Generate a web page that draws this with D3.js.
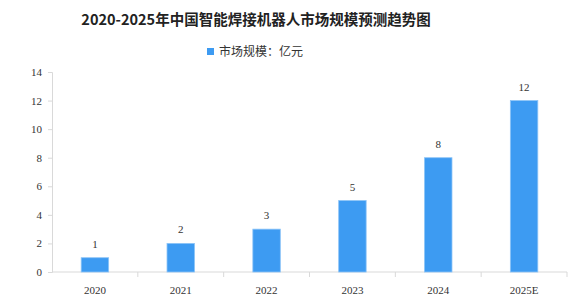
<!DOCTYPE html>
<html>
<head>
<meta charset="utf-8">
<script src="https://cdn.jsdelivr.net/npm/d3@7"></script>
<style>
body { margin: 0; background: #fff; }
text { font-family: "Liberation Serif", "Noto Sans CJK SC", serif; }
.cjk { font-family: "Noto Sans CJK SC", sans-serif; }
</style>
</head>
<body>
<div id="chart"></div>
<script>
var years = ["2020", "2021", "2022", "2023", "2024", "2025E"];
var values = [1, 2, 3, 5, 8, 12];
var yTicks = [0, 2, 4, 6, 8, 10, 12, 14];

var width = 581, height = 303;
var margin = {top: 72, right: 14, bottom: 31, left: 52};

var svg = d3.select("#chart").append("svg")
    .attr("width", width)
    .attr("height", height);

var x = d3.scaleBand()
    .domain(years)
    .range([margin.left, width - margin.right])
    .paddingInner(0.68)
    .paddingOuter(0.34);

var y = d3.scaleLinear()
    .domain([0, 14])
    .range([height - margin.bottom, margin.top]);

svg.append("text")
    .attr("class", "cjk")
    .attr("x", 256)
    .attr("y", 25)
    .attr("text-anchor", "middle")
    .style("font-size", "14.5px")
    .style("font-weight", "bold")
    .style("fill", "#222")
    .text("2020-2025年中国智能焊接机器人市场规模预测趋势图");

svg.append("rect")
    .attr("x", 207)
    .attr("y", 48)
    .attr("width", 7)
    .attr("height", 7)
    .style("fill", "#3d9bf2");

svg.append("text")
    .attr("class", "cjk")
    .attr("x", 219)
    .attr("y", 56)
    .style("font-size", "12px")
    .style("fill", "#333")
    .text("市场规模：亿元");

// y axis
var yAxis = svg.append("g")
    .attr("transform", "translate(" + margin.left + ",0)")
    .call(d3.axisLeft(y).tickValues(yTicks).tickSize(4).tickPadding(6));
yAxis.selectAll("line, path").style("stroke", "#d9d9d9");
yAxis.selectAll("text").style("font-size", "11px").style("fill", "#333")
    .style("font-family", "Liberation Serif, serif");

// x axis with separator ticks between categories
var xAxisG = svg.append("g")
    .attr("transform", "translate(0," + y(0) + ")");
xAxisG.append("line")
    .attr("x1", margin.left)
    .attr("x2", width - margin.right)
    .style("stroke", "#d9d9d9");
var step = x.step();
xAxisG.selectAll(".sep")
    .data(years)
    .enter().append("line")
    .attr("x1", function(d){ return x(d) + x.bandwidth() / 2 + step / 2; })
    .attr("x2", function(d){ return x(d) + x.bandwidth() / 2 + step / 2; })
    .attr("y1", 0)
    .attr("y2", 5)
    .style("stroke", "#d9d9d9");
xAxisG.selectAll(".lbl")
    .data(years)
    .enter().append("text")
    .attr("x", function(d){ return x(d) + x.bandwidth() / 2; })
    .attr("y", 22)
    .attr("text-anchor", "middle")
    .style("font-size", "11px")
    .style("fill", "#333")
    .text(function(d){ return d; });

svg.selectAll(".bar")
    .data(values)
    .enter().append("rect")
    .attr("x", function(d, i){ return x(years[i]); })
    .attr("y", function(d){ return y(d); })
    .attr("width", x.bandwidth())
    .attr("height", function(d){ return y(0) - y(d); })
    .style("fill", "#3d9bf2")
    .style("stroke", "#8cc4f7")
    .style("stroke-width", 0.8);

svg.selectAll(".val")
    .data(values)
    .enter().append("text")
    .attr("x", function(d, i){ return x(years[i]) + x.bandwidth() / 2; })
    .attr("y", function(d){ return y(d) - 10; })
    .attr("text-anchor", "middle")
    .style("font-size", "11px")
    .style("fill", "#333")
    .text(function(d){ return d; });
</script>
</body>
</html>
